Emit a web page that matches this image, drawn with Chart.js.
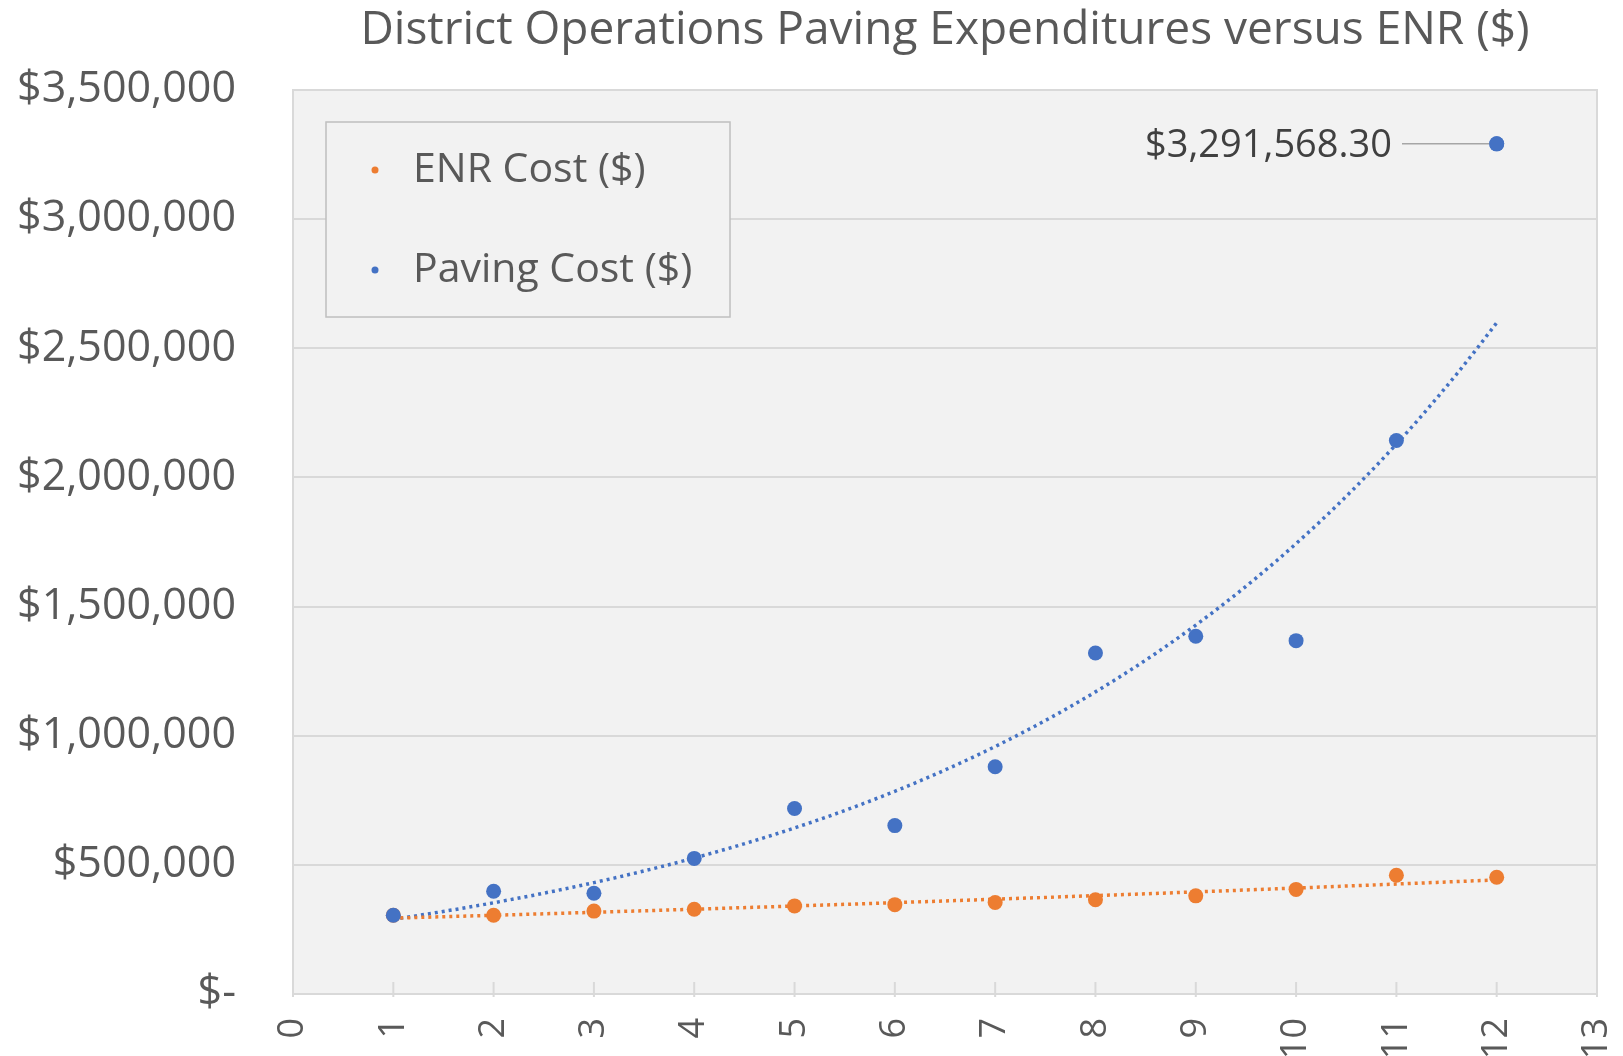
<!DOCTYPE html>
<html>
<head>
<meta charset="utf-8">
<script src="https://cdn.jsdelivr.net/npm/chart.js@4.4.1/dist/chart.umd.min.js"></script>
<style>
  html, body { margin: 0; padding: 0; background: #fff; }
</style>
</head>
<body>
<canvas id="myChart" width="1623" height="1056"></canvas>
<script>
const years = [1, 2, 3, 4, 5, 6, 7, 8, 9, 10, 11, 12];
const enrCost = [305000, 305000, 321000, 328000, 341000, 346000, 354000, 365000, 380000, 405000, 460000, 452000];
const pavingCost = [305000, 398000, 390000, 525000, 718000, 652000, 880000, 1320000, 1385000, 1368000, 2143000, 3291568.30];
const xTicks = [0, 1, 2, 3, 4, 5, 6, 7, 8, 9, 10, 11, 12, 13];
const yTicks = [0, 500000, 1000000, 1500000, 2000000, 2500000, 3000000, 3500000];

const title = 'District Operations Paving Expenditures versus ENR ($)';
const blue = '#4472C4';
const orange = '#ED7D31';
const font = "'Open Sans', sans-serif";

// exponential trendline, same kind as the spreadsheet's
function expFit(xs, ys) {
  const ly = ys.map(Math.log);
  const mx = xs.reduce((a, b) => a + b, 0) / xs.length;
  const my = ly.reduce((a, b) => a + b, 0) / ly.length;
  let sxy = 0, sxx = 0;
  xs.forEach((x, i) => { sxy += (x - mx) * (ly[i] - my); sxx += (x - mx) * (x - mx); });
  const b = sxy / sxx;
  const a = Math.exp(my - b * mx);
  return x => a * Math.exp(b * x);
}

function trendPoints(ys) {
  const f = expFit(years, ys);
  const pts = [];
  for (let x = years[0]; x <= years[years.length - 1] + 1e-9; x += 0.2) {
    pts.push({ x: x, y: f(x) });
  }
  return pts;
}

const toPoints = ys => years.map((x, i) => ({ x: x, y: ys[i] }));

const chartDeco = {
  id: 'chartDeco',
  beforeDraw(chart) {
    const { ctx, chartArea: a } = chart;
    ctx.save();
    ctx.fillStyle = '#f2f2f2';
    ctx.fillRect(a.left, a.top, a.right - a.left, a.bottom - a.top);
    ctx.restore();
  },
  afterDraw(chart) {
    const { ctx, chartArea: a, scales } = chart;
    ctx.save();
    // plot border
    ctx.strokeStyle = '#d9d9d9';
    ctx.lineWidth = 2;
    ctx.strokeRect(a.left, a.top, a.right - a.left, a.bottom - a.top);
    // inside ticks on x axis
    xTicks.forEach(t => {
      const px = scales.x.getPixelForValue(t);
      ctx.beginPath();
      ctx.moveTo(px, a.bottom - 12);
      ctx.lineTo(px, a.bottom + 3);
      ctx.stroke();
    });
    // title
    ctx.fillStyle = '#595959';
    ctx.font = '46px ' + font;
    ctx.textAlign = 'center';
    ctx.textBaseline = 'middle';
    ctx.fillText(title, (a.left + a.right) / 2, 31);

    // legend box
    const lx = 326, ly = 122, lw = 404, lh = 195;
    ctx.fillStyle = '#f2f2f2';
    ctx.fillRect(lx, ly, lw, lh);
    ctx.strokeStyle = '#bfbfbf';
    ctx.lineWidth = 1.5;
    ctx.strokeRect(lx, ly, lw, lh);
    const items = [chart.data.datasets[0], chart.data.datasets[1]];
    items.forEach((ds, i) => {
      const y = 170 + i * 100;
      ctx.fillStyle = ds.backgroundColor;
      ctx.beginPath();
      ctx.arc(375, y, 3.5, 0, Math.PI * 2);
      ctx.fill();
      ctx.fillStyle = '#595959';
      ctx.font = '41px ' + font;
      ctx.textAlign = 'left';
      ctx.fillText(ds.label, 413, y);
    });

    // data label for last paving value
    const last = years.length - 1;
    const px = scales.x.getPixelForValue(years[last]);
    const py = scales.y.getPixelForValue(pavingCost[last]);
    const txt = '$' + pavingCost[last].toLocaleString('en-US', { minimumFractionDigits: 2, maximumFractionDigits: 2 });
    ctx.strokeStyle = '#a6a6a6';
    ctx.lineWidth = 1.5;
    ctx.beginPath();
    ctx.moveTo(1402, py);
    ctx.lineTo(px, py);
    ctx.stroke();
    ctx.beginPath();
    ctx.fillStyle = blue;
    ctx.arc(px, py, 7.5, 0, Math.PI * 2);
    ctx.fill();
    ctx.fillStyle = '#404040';
    ctx.font = '38px ' + font;
    ctx.textAlign = 'right';
    ctx.fillText(txt, 1392, py + 2);
    ctx.restore();
  }
};

new Chart(document.getElementById('myChart'), {
  type: 'scatter',
  data: {
    datasets: [
      {
        label: 'ENR Cost ($)',
        data: toPoints(enrCost),
        backgroundColor: orange,
        borderWidth: 0,
        pointRadius: 7.5,
        order: 2
      },
      {
        label: 'Paving Cost ($)',
        data: toPoints(pavingCost),
        backgroundColor: blue,
        borderWidth: 0,
        pointRadius: 7.5,
        order: 1
      },
      {
        label: 'Expon. (ENR Cost ($))',
        data: trendPoints(enrCost),
        showLine: true,
        borderColor: orange,
        borderWidth: 3.5,
        borderDash: [3, 4],
        pointRadius: 0,
        order: 3
      },
      {
        label: 'Expon. (Paving Cost ($))',
        data: trendPoints(pavingCost),
        showLine: true,
        borderColor: blue,
        borderWidth: 3.5,
        borderDash: [3, 4],
        pointRadius: 0,
        order: 3
      }
    ]
  },
  options: {
    responsive: false,
    animation: false,
    layout: { padding: { top: 90, right: 26, left: 0, bottom: 0 } },
    plugins: {
      legend: { display: false },
      title: { display: false },
      tooltip: { enabled: false }
    },
    scales: {
      x: {
        type: 'linear',
        min: 0,
        max: 13,
        afterFit: s => { s.height = 62; s.paddingLeft = 0; s.paddingRight = 0; },
        afterBuildTicks: s => { s.ticks = xTicks.map(v => ({ value: v })); },
        grid: { display: false },
        border: { display: false },
        ticks: {
          color: '#595959',
          font: { family: font, size: 36 },
          minRotation: 90,
          maxRotation: 90,
          padding: 16
        }
      },
      y: {
        min: 0,
        max: 3500000,
        afterFit: s => { s.width = 293; s.paddingTop = 0; s.paddingBottom = 0; },
        afterBuildTicks: s => { s.ticks = yTicks.map(v => ({ value: v })); },
        grid: { color: '#d9d9d9', lineWidth: 2, drawTicks: false },
        border: { display: false },
        ticks: {
          color: '#595959',
          font: { family: font, size: 43 },
          padding: 57,
          callback: v => v === 0 ? '$-' : '$' + v.toLocaleString('en-US')
        }
      }
    }
  },
  plugins: [chartDeco]
});
</script>
</body>
</html>
